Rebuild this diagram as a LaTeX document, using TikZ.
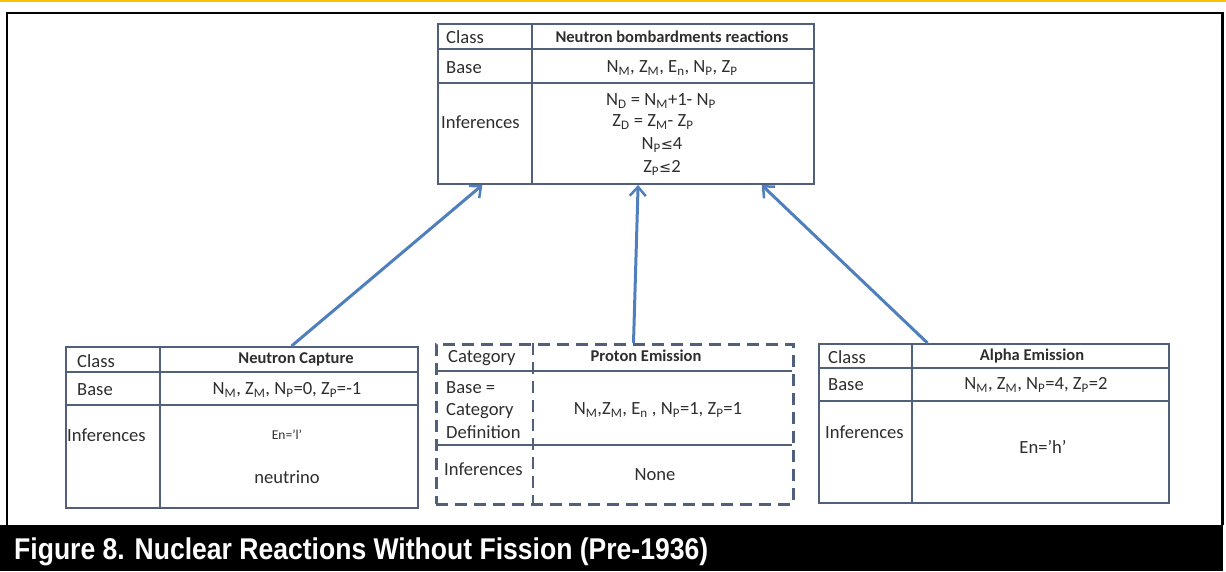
\documentclass[tikz,border=0pt]{standalone}
\usepackage{fontspec}
\setmainfont{Carlito}
\newfontfamily\capfont{Liberation Sans}
\newfontfamily\symfont{DejaVu Sans}
\usetikzlibrary{calc,arrows.meta}

\definecolor{frameline}{HTML}{505F7C}
\definecolor{linkblue}{HTML}{4F7FBC}
\definecolor{txt}{HTML}{2E2E2E}
\definecolor{rule}{HTML}{FFC000}

\newcommand\sbs[1]{\textsubscript{#1}}
\newcommand\leqs{{\symfont\fontsize{14.5}{16}\selectfont ≤}}

\tikzset{
  box/.style={draw=frameline, line width=2pt, rectangle, inner sep=0pt, anchor=north west},
  dbox/.style={box, dash pattern=on 12pt off 7pt, line width=2.6pt},
  gridline/.style={draw=frameline, line width=2pt},
  dgridline/.style={draw=frameline, line width=2.6pt, dash pattern=on 12pt off 7pt},
  thinrow/.style={draw=frameline, line width=1.6pt},
  lab/.style={font=\fontsize{18.6}{20}\selectfont, text=txt, anchor=west, inner sep=0pt},
  val/.style={font=\fontsize{18.6}{20}\selectfont, text=txt, inner sep=0pt},
  head/.style={font=\fontsize{16.5}{18}\selectfont\bfseries, text=txt, inner sep=0pt},
  link/.style={draw=linkblue, line width=3pt, -{Straight Barb[length=9pt,width=16pt,line width=2.5pt]}},
}

\begin{document}
\begin{tikzpicture}[x=1pt,y=-1pt]
\useasboundingbox (0,0) rectangle (1226,571);

% page rule and figure frame
\draw[rule, line width=2pt] (0,1) -- (1226,1);
\draw[black, line width=2.5pt] (7,525) -- (7,13) -- (1222.5,13) -- (1222.5,525);
\fill[black] (0,525) rectangle (1223,571);
\node[anchor=base west, inner sep=0pt, text=white] (caption) at (14,559)
  {\resizebox{694pt}{\height}{\capfont\bfseries\fontsize{30}{31}\selectfont Figure 8. Nuclear Reactions Without Fission (Pre-1936)}};

% parent class: neutron bombardment reactions
\node[box, minimum width=376pt, minimum height=160pt] (top) at (437,23) {};
\draw[gridline] (532,23) -- (532,183);
\draw[gridline] (437,49) -- (813,49);
\draw[gridline] (437,83) -- (813,83);
\node[lab] (tcls) at (446,37) {Class};
\node[lab] (tbase) at (446,68) {Base};
\node[lab] (tinf) at (441,122) {Inferences};
\node[head] (ttitle) at (672,37) {Neutron bombardments reactions};
\node[val] (tbv) at (672,68) {N\sbs{M}, Z\sbs{M}, E\sbs{n}, N\sbs{P}, Z\sbs{P}};
\node[val] (ti1) at (661,101) {N\sbs{D} = N\sbs{M}+1- N\sbs{P}};
\node[val] (ti2) at (653,122) {Z\sbs{D} = Z\sbs{M}- Z\sbs{P}};
\node[val] (ti3) at (662,145) {N\sbs{P}\leqs4};
\node[val] (ti4) at (662,168) {Z\sbs{P}\leqs2};

% neutron capture
\node[box, minimum width=352pt, minimum height=161pt] (capture) at (65,346) {};
\draw[gridline] (160,346) -- (160,507);
\draw[gridline] (65,372) -- (417,372);
\draw[gridline] (65,405) -- (417,405);
\node[lab] (ccls) at (77,361) {Class};
\node[lab] (cbase) at (77,390) {Base};
\node[lab] (cinf) at (67,435) {Inferences};
\node[head] (ctitle) at (296,359) {Neutron Capture};
\node[val] (cbv) at (287,390) {N\sbs{M}, Z\sbs{M}, N\sbs{P}=0, Z\sbs{P}=-1};
\node[val, font=\fontsize{13.5}{15}\selectfont] (cen) at (287,435) {En=’l’};
\node[val] (cnu) at (287,477) {neutrino};

% proton emission (category, dashed)
\node[dbox, minimum width=357pt, minimum height=160pt] (proton) at (435,343) {};
\draw[dgridline] (533,343) -- (533,503);
\draw[thinrow] (435,371) -- (792,371);
\draw[thinrow] (435,445) -- (792,445);
\node[lab] (pcat) at (448,358) {Category};
\node[lab, align=left, font=\fontsize{18.6}{22.5}\selectfont] (pbase) at (446,410) {Base =\\Category\\Definition};
\node[lab] (pinf) at (444,469) {Inferences};
\node[head] (ptitle) at (646,356) {Proton Emission};
\node[val] (pbv) at (658,410) {N\sbs{M},Z\sbs{M}, E\sbs{n} , N\sbs{P}=1, Z\sbs{P}=1};
\node[val] (pnone) at (655,475) {None};

% alpha emission
\node[box, minimum width=350pt, minimum height=159pt] (alpha) at (818,343) {};
\draw[gridline] (912,343) -- (912,502);
\draw[gridline] (818,368) -- (1168,368);
\draw[gridline] (818,401) -- (1168,401);
\node[lab] (acls) at (828,357) {Class};
\node[lab] (abase) at (828,385) {Base};
\node[lab] (ainf) at (825,432) {Inferences};
\node[head] (atitle) at (1032,356) {Alpha Emission};
\node[val] (abv) at (1036,385) {N\sbs{M}, Z\sbs{M}, N\sbs{P}=4, Z\sbs{P}=2};
\node[val] (aen) at (1043,447) {En=’h’};

% specialisation links
\draw[link] ($(capture.north west)!0.64!(capture.north east)$) -- ($(top.south west)!0.12!(top.south east)$);
\draw[link] ($(proton.north west)!0.552!(proton.north east)$) -- ($(top.south west)!0.532!(top.south east)$);
\draw[link] ($(alpha.north west)!0.311!(alpha.north east)$) -- ($(top.south west)!0.859!(top.south east)$);
\end{tikzpicture}
\end{document}
